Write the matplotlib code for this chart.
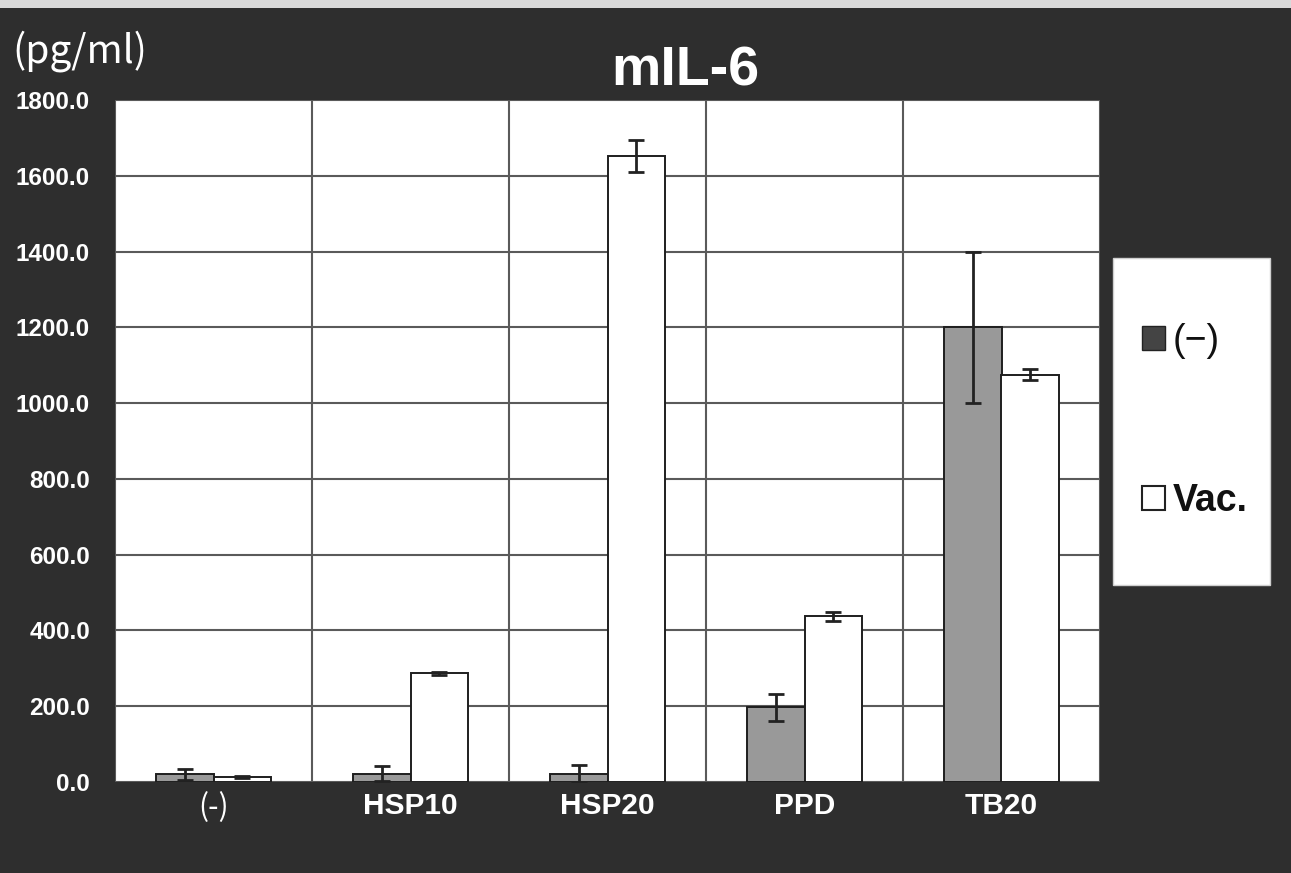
import matplotlib
matplotlib.use("Agg")
import matplotlib.pyplot as plt
from matplotlib.patches import Patch, Rectangle
import numpy as np

# Data
categories = ["(-)", "HSP10", "HSP20", "PPD", "TB20"]
series_names = ["(−)", "Vac."]
control_vals = [20.0, 22.0, 22.0, 197.0, 1200.0]
control_err = [15.0, 20.0, 22.0, 35.0, 200.0]
vac_vals = [13.0, 287.0, 1652.0, 438.0, 1075.0]
vac_err = [2.0, 4.0, 43.0, 12.0, 15.0]
yticks = [0, 200, 400, 600, 800, 1000, 1200, 1400, 1600, 1800]

BG = "#2e2e2e"
GRID = "#5a5a5a"
EDGE = "#1e1e1e"
GRAY = "#999999"

plt.rcParams["font.family"] = ["Liberation Sans", "DejaVu Sans"]

fig = plt.figure(figsize=(12.91, 8.73), dpi=100, facecolor=BG)
W, H = 1291, 873

# light strip along the top edge of the sheet
fig.patches.append(Rectangle((0, 1 - 8 / H), 1, 8 / H, transform=fig.transFigure,
                             facecolor="#d9d9d9", edgecolor="none", zorder=0))

ax = fig.add_axes([115 / W, (H - 782) / H, (1100 - 115) / W, (782 - 100) / H])
ax.set_facecolor("white")

x = np.arange(len(categories))
w = 0.29

ax.bar(x - w / 2, control_vals, width=w, color=GRAY, edgecolor=EDGE,
       linewidth=1.4, zorder=3)
ax.bar(x + w / 2, vac_vals, width=w, color="white", edgecolor=EDGE,
       linewidth=1.4, zorder=3)
ax.errorbar(x - w / 2, control_vals, yerr=control_err, fmt="none",
            ecolor="#222222", elinewidth=2.0, capsize=6, capthick=2.0, zorder=4)
ax.errorbar(x + w / 2, vac_vals, yerr=vac_err, fmt="none",
            ecolor="#222222", elinewidth=2.0, capsize=6, capthick=2.0, zorder=4)

ax.set_xlim(-0.5, len(categories) - 0.5)
ax.set_ylim(0, 1800)

# vertical grid lines sit between the category groups
ax.set_xticks(x)
ax.set_xticks(np.arange(len(categories) + 1) - 0.5, minor=True)
ax.set_xticklabels(categories, fontweight="bold")
ax.set_yticks(yticks)
ax.set_yticklabels([f"{v:.1f}" for v in yticks], fontweight="bold")
ax.grid(True, which="minor", axis="x", color=GRID, linewidth=1.5, zorder=1)
ax.grid(True, which="major", axis="y", color=GRID, linewidth=1.5, zorder=1)
ax.grid(False, which="major", axis="x")
ax.set_axisbelow(True)

ax.tick_params(axis="both", which="both", length=0)
ax.tick_params(axis="x", pad=7, labelsize=21.5, labelcolor="white")
ax.tick_params(axis="y", pad=18, labelsize=17.5, labelcolor="white")
for s in ax.spines.values():
    s.set_visible(False)

# the "(-)" category label is set in a lighter face
first = ax.get_xticklabels()[0]
first.set_fontweight("normal")
first.set_family(["Noto Sans CJK JP", "DejaVu Sans"])

# title and unit
fig.text(685 / W, 1 - 71 / H, "mIL-6", color="white", fontsize=40,
         fontweight="bold", ha="center", va="center")
fig.text(12 / W, 1 - 51 / H, "(pg/ml)", color="white", fontsize=28,
         ha="left", va="center", family=["Noto Sans CJK JP", "DejaVu Sans"])

# legend box
fig.patches.append(Rectangle((1113 / W, (H - 585) / H), (1270 - 1113) / W,
                             (585 - 258) / H, transform=fig.transFigure,
                             facecolor="white", edgecolor="#cfcfcf",
                             linewidth=1.0, zorder=1))
handles = [Patch(facecolor="#444444", edgecolor="#222222"),
           Patch(facecolor="white", edgecolor="#222222", linewidth=1.5)]
leg = fig.legend(handles, series_names, loc="center",
                 bbox_to_anchor=(1195 / W, 1 - 421 / H), frameon=False,
                 fontsize=27, handlelength=0.62, handleheight=0.62,
                 handletextpad=0.2, labelspacing=3.3)
leg.set_zorder(5)
for t in leg.get_texts():
    t.set_color("#111111")
leg.get_texts()[1].set_fontweight("bold")

fig.savefig("out.png", dpi=100, facecolor=BG)
